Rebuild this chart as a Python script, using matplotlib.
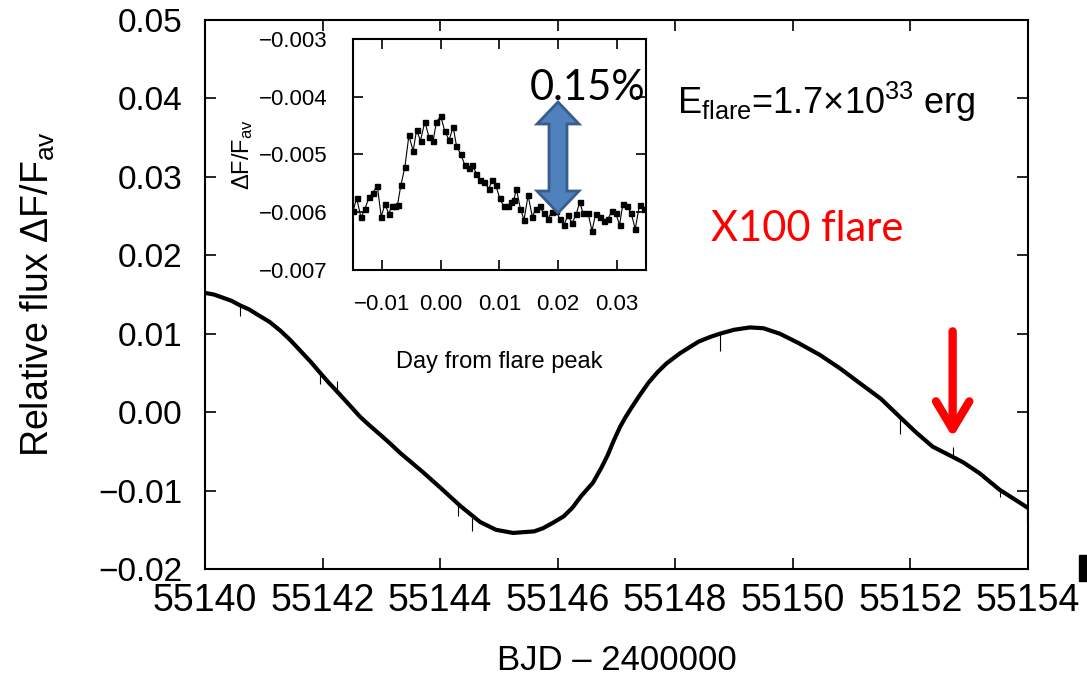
import matplotlib
matplotlib.use("Agg")
import matplotlib.pyplot as plt
import matplotlib.patches as mpatches

plt.rcParams['font.family'] = ['Liberation Sans', 'DejaVu Sans']
plt.rcParams['mathtext.fontset'] = 'custom'
plt.rcParams['mathtext.rm'] = 'Liberation Sans'
plt.rcParams['mathtext.it'] = 'Liberation Sans'

# light curve
bjd = [55140.0, 55140.15, 55140.3, 55140.45, 55140.6, 55140.75, 55140.9, 55141.1,
       55141.28, 55141.45, 55141.6, 55141.8, 55141.96, 55142.1, 55142.3, 55142.47,
       55142.64, 55142.8, 55143.0, 55143.15, 55143.32, 55143.7, 55144.0, 55144.35,
       55144.68, 55144.95, 55145.24, 55145.6, 55145.75, 55145.92, 55146.1, 55146.25,
       55146.4, 55146.6, 55146.75, 55146.85, 55146.95, 55147.06, 55147.15, 55147.25,
       55147.4, 55147.55, 55147.7, 55147.85, 55148.08, 55148.25, 55148.4, 55148.6,
       55148.76, 55149.0, 55149.27, 55149.5, 55149.78, 55150.1, 55150.46, 55150.8,
       55151.14, 55151.5, 55151.82, 55152.1, 55152.38, 55152.72, 55152.9, 55153.18,
       55153.52, 55153.75, 55154.0]
flux = [0.0152, 0.0150, 0.0146, 0.0142, 0.0136, 0.0131, 0.0124, 0.0115,
        0.0104, 0.0092, 0.0080, 0.0064, 0.0050, 0.0038, 0.0022, 0.0008,
        -0.0006, -0.0017, -0.0030, -0.0040, -0.0052, -0.0076, -0.0096, -0.0120,
        -0.0140, -0.0150, -0.0154, -0.0152, -0.0148, -0.0141, -0.0133, -0.0122,
        -0.0107, -0.0090, -0.0070, -0.0055, -0.0037, -0.0019, -0.0007, 0.0005,
        0.0022, 0.0038, 0.0051, 0.0062, 0.0075, 0.0083, 0.0090, 0.0096,
        0.0100, 0.0105, 0.0108, 0.0107, 0.0100, 0.0088, 0.0073, 0.0056,
        0.0037, 0.0017, -0.0006, -0.0026, -0.0044, -0.0057, -0.0064, -0.0078,
        -0.0099, -0.0110, -0.0122]

# small spikes on the light curve (time, base flux, tip flux)
spike_t = [55140.6, 55141.96, 55142.25, 55144.3, 55144.55, 55148.76, 55151.82, 55152.72, 55153.52, 55153.98]
spike_lo = [0.0136, 0.0050, 0.0040, -0.0118, -0.0135, 0.0100, -0.0006, -0.0057, -0.0097, -0.0122]
spike_hi = [0.0123, 0.0036, 0.0023, -0.0133, -0.0152, 0.0078, -0.0028, -0.0045, -0.0108, -0.0140]

# inset: flare, days from peak
dt = [-0.01494, -0.01438, -0.01364, -0.01295, -0.01222, -0.01165, -0.01085, -0.01017,
      -0.00955, -0.00886, -0.00841, -0.00784, -0.00739, -0.00682, -0.00614, -0.00545,
      -0.00472, -0.00415, -0.00347, -0.00273, -0.00205, -0.00131, -0.00074, 0.0,
      0.00068, 0.00142, 0.00210, 0.00267, 0.00341, 0.00409, 0.00477, 0.00540,
      0.00608, 0.00665, 0.00733, 0.00818, 0.00881, 0.00938, 0.01006, 0.01074,
      0.01148, 0.01205, 0.01244, 0.01290, 0.01358, 0.01420, 0.01489, 0.01563,
      0.01619, 0.01688, 0.01756, 0.01830, 0.01898, 0.01960, 0.02028, 0.02102,
      0.02170, 0.02239, 0.02313, 0.02369, 0.02426, 0.02511, 0.02580, 0.02642,
      0.02710, 0.02784, 0.02852, 0.02920, 0.02983, 0.03051, 0.03108, 0.03176,
      0.03250, 0.03318, 0.03392, 0.03466]
dflux = [-0.00597, -0.00575, -0.00609, -0.00594, -0.00573, -0.00567, -0.00554, -0.00608,
         -0.00586, -0.00603, -0.00589, -0.00589, -0.00587, -0.00553, -0.00522, -0.00467,
         -0.00494, -0.00458, -0.00476, -0.00443, -0.00469, -0.00476, -0.00443, -0.00434,
         -0.00460, -0.00475, -0.00452, -0.00485, -0.00500, -0.00518, -0.00524, -0.00518,
         -0.00534, -0.00545, -0.00548, -0.00559, -0.00544, -0.00553, -0.00576, -0.00590,
         -0.00589, -0.00582, -0.00579, -0.00560, -0.00594, -0.00613, -0.00571, -0.00608,
         -0.00594, -0.00590, -0.00602, -0.00611, -0.00599, -0.00597, -0.00611, -0.00622,
         -0.00605, -0.00619, -0.00603, -0.00582, -0.00601, -0.00601, -0.00632, -0.00603,
         -0.00608, -0.00616, -0.00612, -0.00598, -0.00601, -0.00622, -0.00585, -0.00590,
         -0.00602, -0.00629, -0.00587, -0.00594]

main_xticks = [55140, 55142, 55144, 55146, 55148, 55150, 55152, 55154]
main_yticks = [-0.02, -0.01, 0.00, 0.01, 0.02, 0.03, 0.04, 0.05]
inset_xticks = [-0.01, 0.00, 0.01, 0.02, 0.03]
inset_yticks = [-0.007, -0.006, -0.005, -0.004, -0.003]

fig = plt.figure(figsize=(10.87, 6.77), dpi=100)

ax = fig.add_axes([0.1886, 0.1595, 0.757, 0.811])
ax.plot(bjd, flux, color='black', lw=3)
ax.vlines(spike_t, spike_lo, spike_hi, color='black', lw=0.8)
ax.set_xlim(55140, 55154)
ax.set_ylim(-0.02, 0.05)
ax.set_xticks(main_xticks)
ax.set_yticks(main_yticks)
ax.set_xticklabels([str(v) for v in main_xticks])
ax.set_yticklabels(['%.2f' % v if v >= 0 else '\u2212%.2f' % -v for v in main_yticks])
ax.tick_params(direction='in', length=8, width=1.2, top=True, right=True)
ax.tick_params(axis='x', labelsize=27, pad=10)
ax.tick_params(axis='y', labelsize=24, pad=16)
for s in ax.spines.values():
    s.set_linewidth(1.5)
ax.set_xlabel('BJD \u2013 2400000', fontsize=25, labelpad=18)
ax.set_ylabel(r'Relative flux $\Delta$F/F$_{\rm av}$', fontsize=27, labelpad=30)

# red arrow marking the flare
ax.annotate('', xy=(55152.72, -0.0032), xytext=(55152.72, 0.0103),
            arrowprops=dict(arrowstyle='->,head_length=1.0,head_width=0.6', color='#ff0000',
                            lw=6, mutation_scale=20, shrinkA=0, shrinkB=0))
ax.text(55150.25, 0.0234, 'X100 flare', color='#ff0000', fontsize=30, family=['Lato', 'DejaVu Sans'],
        ha='center', va='center')
ax.text(55148.03, 0.0395, r'E$_{\rm flare}$=1.7$\times$10$^{33}$ erg', fontsize=26, ha='left', va='center')

# inset
axi = fig.add_axes([0.3247, 0.6012, 0.2695, 0.3412])
axi.plot(dt, dflux, color='black', lw=0.8, marker='s', ms=3.6)
axi.set_xlim(-0.015, 0.035)
axi.set_ylim(-0.007, -0.003)
axi.set_xticks(inset_xticks)
axi.set_yticks(inset_yticks)
axi.set_xticklabels(['\u22120.01', '0.00', '0.01', '0.02', '0.03'])
axi.set_yticklabels(['\u22120.007', '\u22120.006', '\u22120.005', '\u22120.004', '\u22120.003'])
axi.tick_params(direction='in', length=7, width=1.2, top=True, right=True, labelsize=16)
axi.tick_params(axis='x', pad=17)
axi.tick_params(axis='y', pad=18)
for s in axi.spines.values():
    s.set_linewidth(1.5)
axi.set_xlabel('Day from flare peak', fontsize=17, labelpad=26)
axi.set_ylabel(r'$\Delta$F/F$_{\rm av}$', fontsize=17, labelpad=3)

# blue double arrow (drawn in pixel space)
cx, ytop, ybot = 558, 102, 213
hw, sw, hl = 21, 9, 22
pts = [(cx, ytop), (cx + hw, ytop + hl), (cx + sw, ytop + hl), (cx + sw, ybot - hl),
       (cx + hw, ybot - hl), (cx, ybot), (cx - hw, ybot - hl), (cx - sw, ybot - hl),
       (cx - sw, ytop + hl), (cx - hw, ytop + hl)]
pts = [(x / 1087, 1 - y / 677) for x, y in pts]
fig.patches.append(mpatches.Polygon(pts, closed=True, transform=fig.transFigure,
                                    facecolor='#4f81bd', edgecolor='#385d8a', lw=2, zorder=5))
fig.text(588 / 1087, 1 - 88 / 677, '0.15%', fontsize=30, family=['Lato', 'DejaVu Sans'],
         ha='center', va='center', zorder=6)

# edge of neighbouring panel
fig.patches.append(mpatches.Rectangle((1079 / 1087, 1 - 581 / 677), 8 / 1087, 26 / 677,
                                      transform=fig.transFigure, color='black'))

fig.savefig('out.png', dpi=100)
